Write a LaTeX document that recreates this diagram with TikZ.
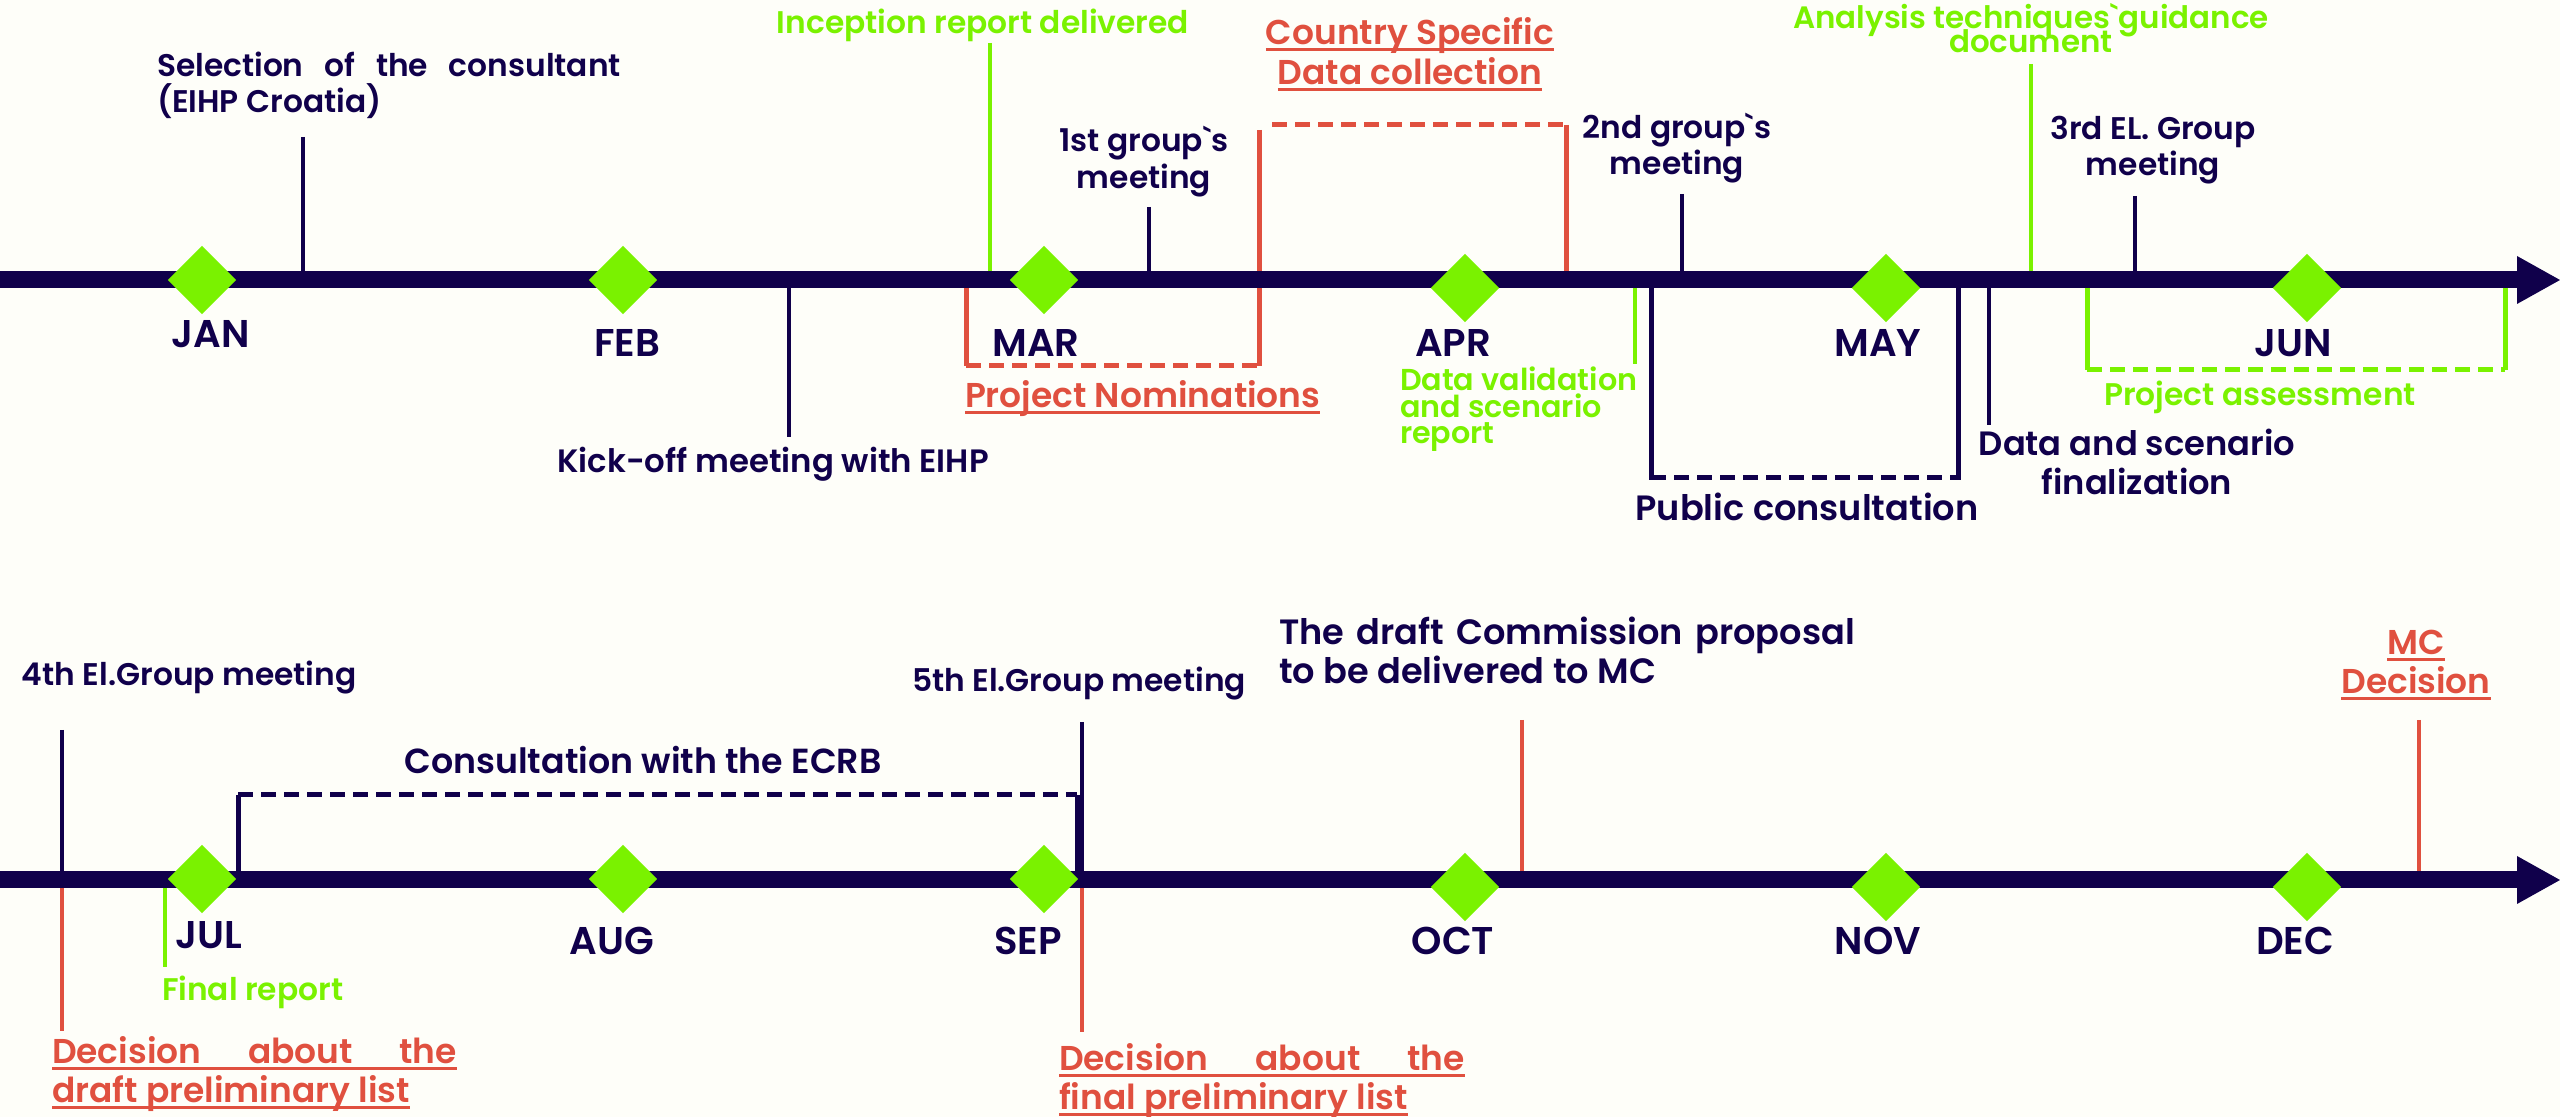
\documentclass[tikz,border=0pt]{standalone}
\usepackage{fontspec}
\IfFontExistsTF{Poppins SemiBold}
  {\setmainfont{Poppins}[Ligatures=TeXOff, BoldFont={Poppins SemiBold}]}
  {\setmainfont{Poppins}[Ligatures=TeXOff]}
\usetikzlibrary{shapes.geometric}
\definecolor{navy}{HTML}{10004B}
\definecolor{lime}{HTML}{7AF200}
\definecolor{coral}{HTML}{E0503F}
\definecolor{paper}{HTML}{FEFEF9}
\newsavebox\ulbox
\newcommand\ulx[1]{\sbox\ulbox{#1}\rlap{\rule[-1.8pt]{\wd\ulbox}{0.85pt}}\usebox\ulbox}
\newcommand\bq{\char"60\relax}
\newcommand\fsz[2]{\fontsize{#1}{#2}\selectfont\bfseries\lineskiplimit=-20pt\relax}
\tikzset{
  txt/.style={inner sep=0pt, outer sep=0pt},
  navyS/.style={txt, text=navy, font=\fsz{8.9pt}{10.3pt}},
  navyL/.style={txt, text=navy, font=\fsz{9.6pt}{11.2pt}},
  redT/.style={txt, text=coral, font=\fsz{9.8pt}{11.2pt}},
  grnT/.style={txt, text=lime, font=\fsz{8.9pt}{10pt}},
  month/.style={txt, text=navy, font=\fsz{11pt}{13pt}, anchor=base},
  mdiam/.style={diamond, fill=lime, inner sep=0pt, minimum width=6.9mm, minimum height=6.9mm},
  tick/.style={line width=0.45mm},
  brk/.style={line width=0.5mm},
  dsh/.style={line width=0.5mm, dash pattern=on 1.5mm off 0.8mm},
  axis/.style={line width=1.7mm, draw=navy},
}
\begin{document}
\begin{tikzpicture}[x=0.1mm,y=-0.1mm]
\fill[paper] (0,0) rectangle (2560,1117);
\useasboundingbox (0,0) rectangle (2560,1117);
% ---------- ticks, top row ----------
\draw[tick, navy] (303,137) -- (303,280);
\draw[tick, lime] (990,43) -- (990,280);
\draw[tick, navy] (1149,207) -- (1149,280);
\draw[tick, navy] (1682,194) -- (1682,280);
\draw[tick, lime] (2031,64) -- (2031,280);
\draw[tick, navy] (2135,196) -- (2135,280);
\draw[tick, navy] (789,280) -- (789,437);
\draw[tick, lime] (1635,280) -- (1635,364);
\draw[tick, navy] (1989,280) -- (1989,425);
% brackets top row
\draw[brk, coral] (1566,125) -- (1566,274);
\draw[dsh, coral] (1272,125) -- (1566,125);
\draw[brk, coral] (1259,130) -- (1259,366);
\draw[brk, coral] (966,280) -- (966,366);
\draw[dsh, coral] (966,366) -- (1259,366);
\draw[brk, navy] (1651,280) -- (1651,480);
\draw[brk, navy] (1958,280) -- (1958,480);
\draw[dsh, navy] (1651,478) -- (1958,478);
\draw[brk, lime] (2087,280) -- (2087,370);
\draw[brk, lime] (2505,280) -- (2505,370);
\draw[dsh, lime] (2087,370) -- (2505,370);
% ---------- ticks, bottom row ----------
\draw[tick, navy] (62,730) -- (62,880);
\draw[tick, coral] (62,880) -- (62,1031);
\draw[tick, lime] (165,880) -- (165,967);
\draw[tick, navy] (1082,722) -- (1082,880);
\draw[tick, coral] (1082,880) -- (1082,1032);
\draw[tick, coral] (1522,720) -- (1522,880);
\draw[tick, coral] (2419,720) -- (2419,880);
\draw[brk, navy] (238,880) -- (238,795);
\draw[brk, navy] (1077,795) -- (1077,880);
\draw[dsh, navy] (238,795) -- (1077,795);
% ---------- axes ----------
\draw[axis] (0,280) -- (2518,280);
\fill[navy] (2517,256) -- (2560,280) -- (2517,304) -- cycle;
\draw[axis] (0,880) -- (2518,880);
\fill[navy] (2517,856) -- (2560,880) -- (2517,904) -- cycle;
% ---------- diamonds ----------
\foreach \n/\x/\y in {jan/202/280, feb/623/280, mar/1044/280, apr/1465/288, may/1886/288, jun/2307/288,
  jul/202/879, aug/623/879, sep/1044/879, oct/1465/887, nov/1886/887, dec/2307/887}
  \node[mdiam] (d\n) at (\x,\y) {};
% ---------- month labels ----------
\node[month] (mjan) at (211,348) {JAN};
\node[month] (mfeb) at (627,357) {FEB};
\node[month] (mmar) at (1036,357) {MAR};
\node[month] (mapr) at (1453,357) {APR};
\node[month] (mmay) at (1878,357) {MAY};
\node[month] (mjun) at (2293,357) {JUN};
\node[month] (mjul) at (209,949) {JUL};
\node[month] (maug) at (612,955) {AUG};
\node[month] (msep) at (1028,955) {SEP};
\node[month] (moct) at (1453,955) {OCT};
\node[month] (mnov) at (1878,955) {NOV};
\node[month] (mdec) at (2295,955) {DEC};
% ---------- top labels (multi-line nodes: base = last line) ----------
\node[navyS, anchor=base west, align=left] (sel) at (157,112.5) {\makebox[46.4mm][s]{Selection of the consultant}\\(EIHP Croatia)};
\node[grnT, anchor=base] (inc) at (983,34) {Inception report delivered};
\node[navyS, anchor=base, align=center, font=\fsz{8.9pt}{10.6pt}] (g1) at (1144,189) {1st group\bq s\\meeting};
\node[redT, anchor=base, align=center, font=\fsz{9.8pt}{11.4pt}] (csd) at (1410,85) {\ulx{Country Specific}\\\ulx{Data collection}};
\node[navyS, anchor=base, align=center] (g2) at (1677,175) {2nd group\bq s\\meeting};
\node[grnT, anchor=base, align=center, font=\fsz{8.8pt}{6.95pt}] (ana) at (2031,53) {Analysis techniques\bq guidance\\document};
\node[navyS, anchor=base, align=center] (g3) at (2153,176) {3rd EL. Group\\meeting};
\node[redT, anchor=base west] (pn) at (965,408) {\ulx{Project Nominations}};
\node[grnT, anchor=base west, align=left, font=\fsz{8.6pt}{7.6pt}] (dv) at (1400,444) {Data validation\\and scenario\\report};
\node[grnT, anchor=base] (pa) at (2260,406) {Project assessment};
\node[navyL, anchor=base, font=\fsz{9.2pt}{11pt}] (ko) at (773,473) {Kick-off meeting with EIHP};
\node[navyL, anchor=base, font=\fsz{10pt}{11pt}] (pc) at (1807,521) {Public consultation};
\node[navyL, anchor=base, align=center] (dsf) at (2137,494.6) {Data and scenario\\finalization};
% ---------- bottom labels ----------
\node[navyS, anchor=base west] (g4) at (22,686) {4th El.Group meeting};
\node[navyS, anchor=base west] (g5) at (912,692) {5th El.Group meeting};
\node[navyL, anchor=base west, align=left, font=\fsz{10pt}{11.1pt}] (dcp) at (1279,683.6) {\makebox[57.6mm][s]{The draft Commission proposal}\\to be delivered to MC};
\node[redT, anchor=base, align=center] (mcd) at (2416,694) {\ulx{MC}\\\ulx{Decision}};
\node[navyL, anchor=base, font=\fsz{9.9pt}{11pt}] (ecrb) at (643,774) {Consultation with the ECRB};
\node[grnT, anchor=base west] (fr) at (162,1001) {Final report};
\node[redT, anchor=base west, align=left] (dd) at (52,1103) {\ulx{\makebox[40.5mm][s]{Decision about the}}\\\ulx{draft preliminary list}};
\node[redT, anchor=base west, align=left] (df) at (1059,1110) {\ulx{\makebox[40.6mm][s]{Decision about the}}\\\ulx{final preliminary list}};
\end{tikzpicture}
\end{document}
